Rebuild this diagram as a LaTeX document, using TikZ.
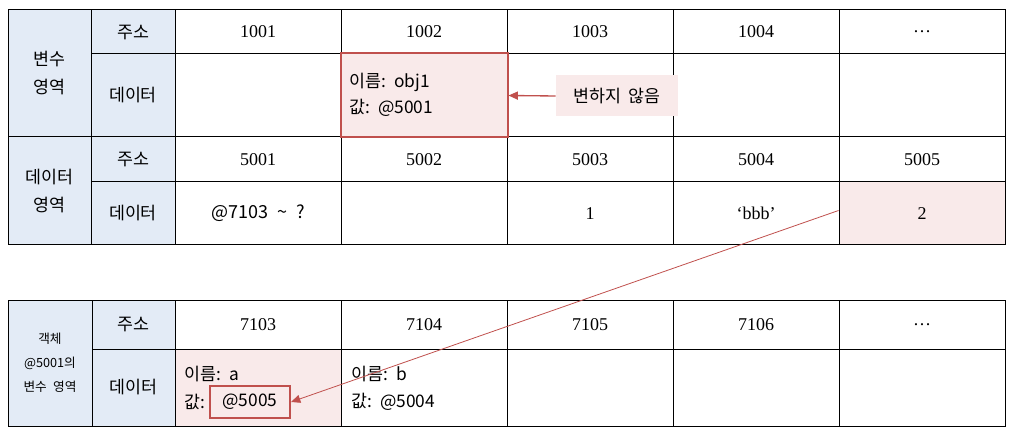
\documentclass[tikz,border=0pt]{standalone}
\usepackage{fontspec}
\setmainfont{Liberation Serif}
\newfontfamily\kr{Noto Sans CJK KR}
\usepackage{xcolor}
\usetikzlibrary{arrows.meta,positioning,fit,calc}

\definecolor{hdrblue}{RGB}{227,235,246}
\definecolor{pinkfill}{RGB}{249,234,234}
\definecolor{memred}{RGB}{192,80,77}

\begin{document}
\begin{tikzpicture}[
    x=0.75pt, y=-0.75pt,
    font=\fontsize{13.5}{16}\selectfont,
    % one table cell; widths and heights in pt
    cell/.style={draw, line width=0.75pt, inner sep=0pt, minimum width=124.5pt},
    hdr/.style={draw, line width=0.75pt, inner sep=0pt, fill=hdrblue, align=center,
                font=\kr\fontsize{13}{21}\selectfont},
    hibox/.style={draw=memred, line width=1.5pt, fill=pinkfill, inner sep=0pt},
    note/.style={fill=pinkfill, inner sep=0pt, minimum width=91.5pt, minimum height=30.75pt},
    info/.style={anchor=west, inner sep=0pt, font=\kr\fontsize{13}{15}\selectfont},
    redarrow/.style={draw=memred, line width=1pt, -{Triangle[length=7pt,width=6pt]}},
    thinarrow/.style={draw=memred, line width=0.6pt, -{Triangle[length=7pt,width=6pt]}},
  ]
  \useasboundingbox (0,0) rectangle (1027,438);

  % variable area
  \node[hdr, minimum width=62.25pt, minimum height=95.25pt] (varhead) at (49.5,73.5) {변수\\영역};
  \node[hdr, minimum width=63pt, minimum height=33pt] (varadr) at (133,32) {주소};
  \node[hdr, minimum width=63pt, minimum height=62.25pt] (vardat) at (133,95.5) {데이터};
  \foreach \adr [count=\i from 0] in {1001,1002,1003,1004,\dots}{
    \node[cell, minimum height=33pt] (va\i) at ({258+166*\i},32) {\adr};
    \node[cell, minimum height=62.25pt] (vd\i) at ({258+166*\i},95.5) {};
  }

  % data area
  \node[hdr, minimum width=62.25pt, minimum height=81pt] (dathead) at (49.5,191) {데이터\\영역};
  \node[hdr, minimum width=63pt, minimum height=33.75pt] (datadr) at (133,159.5) {주소};
  \node[hdr, minimum width=63pt, minimum height=47.25pt] (datdat) at (133,213.5) {데이터};
  \foreach \adr/\val/\fc [count=\i from 0] in
      {5001/{\kr @7103\enspace\textasciitilde\enspace ?}/white, 5002//white, 5003/1/white, 5004/‘bbb’/white, 5005/2/pinkfill}{
    \node[cell, minimum height=33.75pt] (da\i) at ({258+166*\i},159.5) {\adr};
    \node[cell, fill=\fc, minimum height=47.25pt] (dd\i) at ({258+166*\i},213.5) {\val};
  }

  % variable area of object @5001
  \node[hdr, minimum width=63pt, minimum height=94.5pt, font=\kr\fontsize{9.5}{18}\selectfont]
    (objhead) at (50,363) {객체\\@5001의\\변수\enspace 영역};
  \node[hdr, minimum width=62.25pt, minimum height=36.75pt] (objadr) at (133.5,324.5) {주소};
  \node[hdr, minimum width=62.25pt, minimum height=57.75pt] (objdat) at (133.5,387.5) {데이터};
  \foreach \adr/\fc [count=\i from 0] in {7103/pinkfill,7104/white,7105/white,7106/white,\dots/white}{
    \node[cell, minimum height=36.75pt] (oa\i) at ({258+166*\i},324.5) {\adr};
    \node[cell, fill=\fc, minimum height=57.75pt] (od\i) at ({258+166*\i},387.5) {};
  }

  % obj1 stays where it is
  \node[hibox, fit=(vd1)] (objbox) {};
  \node[info] (objname) at (349,82) {이름:\, obj1};
  \node[info] (objval) at (349,108) {값:\, @5001};
  \node[note, font=\kr\fontsize{13}{15}\selectfont] (keep) at (617,96) {변하지\, 않음};
  \draw[redarrow] (keep.west) -- (objbox.east);

  % members of the object
  \node[info] (aname) at (184,374) {이름:\, a};
  \node[info] (aval) at (184,402) {값:};
  \node[draw=memred, line width=1.5pt, inner sep=0pt, minimum width=60pt, minimum height=24pt,
        font=\kr\fontsize{13}{15}\selectfont] (aref) at (250,402) {@5005};
  \node[info] (bname) at (351,374) {이름:\, b};
  \node[info] (bval) at (351,402) {값:\, @5004};

  \draw[thinarrow] ([yshift=2.25pt]dd4.west) -- (aref.east);
\end{tikzpicture}
\end{document}
